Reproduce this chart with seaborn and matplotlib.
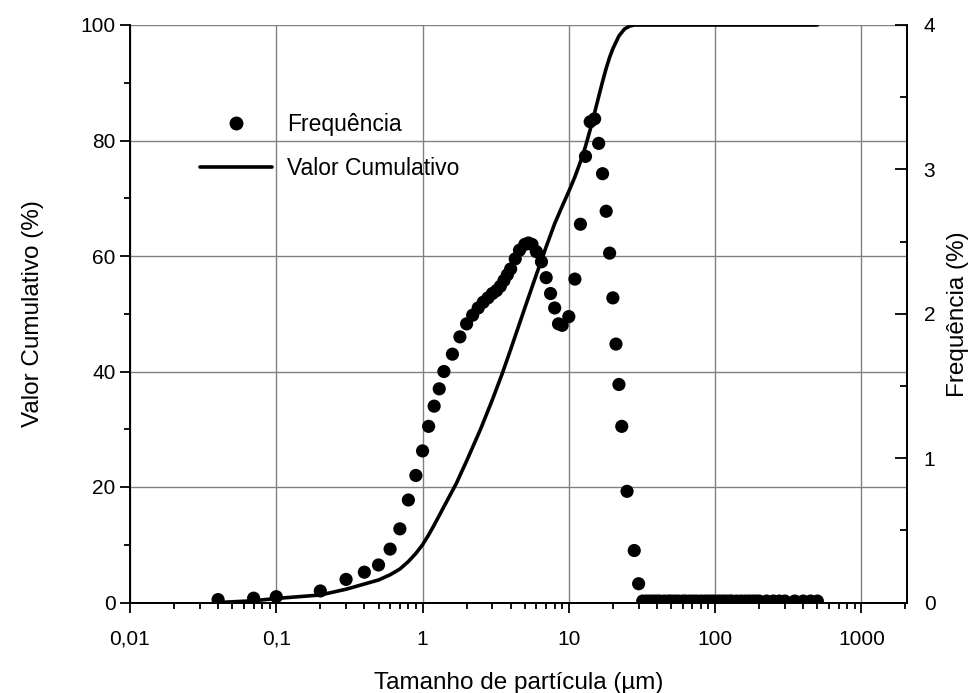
import numpy as np
import pandas as pd
import matplotlib
matplotlib.use("Agg")
import matplotlib.pyplot as plt
import matplotlib.ticker as mticker
from matplotlib.lines import Line2D
import seaborn as sns

# ---- data ----
freq_size = [0.04, 0.07, 0.1, 0.2, 0.3, 0.4, 0.5, 0.6, 0.7, 0.8, 0.9, 1.0, 1.1, 1.2, 1.3, 1.4,
             1.6, 1.8, 2.0, 2.2, 2.4, 2.6, 2.8, 3.0, 3.2, 3.4, 3.6, 3.8, 4.0, 4.3, 4.6, 5.0,
             5.3, 5.6, 6.0, 6.5, 7.0, 7.5, 8.0, 8.5, 9.0, 10, 11, 12, 13, 14, 15, 16, 17, 18,
             19, 20, 21, 22, 23, 25, 28, 30,
             32, 34, 36, 38, 40, 42, 45, 48, 50, 53, 56, 60, 63, 67, 71, 75, 80, 85, 90, 95,
             100, 106, 112, 118, 125, 130, 140, 150, 160, 170, 180, 190, 200, 225, 250, 275,
             300, 350, 400, 450, 500]
freq_val = [0.02, 0.03, 0.04, 0.08, 0.16, 0.21, 0.26, 0.37, 0.51, 0.71, 0.88, 1.05, 1.22, 1.36,
            1.48, 1.60, 1.72, 1.84, 1.93, 1.99, 2.04, 2.08, 2.11, 2.14, 2.16, 2.19, 2.23, 2.27,
            2.31, 2.38, 2.44, 2.48, 2.49, 2.48, 2.43, 2.36, 2.25, 2.14, 2.04, 1.93, 1.92, 1.98,
            2.24, 2.62, 3.09, 3.33, 3.35, 3.18, 2.97, 2.71, 2.42, 2.11, 1.79, 1.51, 1.22, 0.77,
            0.36, 0.13,
            0.01, 0.01, 0.01, 0.01, 0.01, 0.01, 0.01, 0.01, 0.01, 0.01, 0.01, 0.01, 0.01, 0.01,
            0.01, 0.01, 0.01, 0.01, 0.01, 0.01, 0.01, 0.01, 0.01, 0.01, 0.01, 0.01, 0.01, 0.01,
            0.01, 0.01, 0.01, 0.01, 0.01, 0.01, 0.01, 0.01, 0.01, 0.01, 0.01, 0.01, 0.01]

cum_size = [0.04, 0.07, 0.1, 0.2, 0.3, 0.4, 0.5, 0.6, 0.7, 0.8, 0.9, 1.0, 1.1, 1.2, 1.4, 1.7,
            2.0, 2.5, 3.0, 3.5, 4.0, 4.5, 5.0, 6.0, 7.0, 8.0, 9.0, 10, 11, 12, 13, 14, 15, 16,
            17, 18, 19, 20, 22, 24, 26, 28, 32, 50, 100, 200, 500]
cum_val = [0.0, 0.3, 0.7, 1.3, 2.3, 3.2, 3.9, 4.8, 5.8, 7.1, 8.5, 10.0, 11.7, 13.4, 16.6, 20.6,
           24.5, 30.1, 35.1, 39.6, 43.8, 47.6, 51.0, 56.8, 61.6, 65.6, 68.6, 71.2, 73.7, 76.3,
           79.0, 81.9, 84.8, 87.6, 90.2, 92.5, 94.4, 95.9, 98.1, 99.3, 99.8, 100, 100, 100, 100,
           100, 100]

x_ticks = [0.01, 0.1, 1, 10, 100, 1000]
x_ticklabels = ["0,01", "0,1", "1", "10", "100", "1000"]
left_ticks = [0, 20, 40, 60, 80, 100]
right_ticks = [0, 1, 2, 3, 4]

freq_df = pd.DataFrame({"size": freq_size, "freq": freq_val})
cum_df = pd.DataFrame({"size": cum_size, "cum": cum_val})

# ---- style ----
sns.set_style("white")
plt.rcParams["font.family"] = ["Liberation Sans", "DejaVu Sans"]
plt.rcParams["axes.linewidth"] = 1.3
plt.rcParams["text.color"] = "black"
plt.rcParams["axes.labelcolor"] = "black"
plt.rcParams["xtick.color"] = "black"
plt.rcParams["ytick.color"] = "black"

fig = plt.figure(figsize=(9.76, 6.93), dpi=100)
ax = fig.add_axes([130 / 976, 1 - 602.5 / 693, 777 / 976, 577.5 / 693])
ax2 = ax.twinx()

ax.set_xscale("log")
ax.set_xlim(0.01, 2050)
ax.set_ylim(0, 100)
ax2.set_ylim(0, 4)

# grid
ax.set_axisbelow(True)
ax.grid(True, which="major", axis="both", color="#808080", linewidth=1.0)

sns.lineplot(data=cum_df, x="size", y="cum", ax=ax, color="black", linewidth=2.6,
             sort=True, estimator=None, legend=False)
sns.scatterplot(data=freq_df, x="size", y="freq", ax=ax2, color="black", s=90,
                edgecolor="none", legend=False, zorder=3)

# spines
ax.spines["top"].set_visible(False)
ax2.spines["top"].set_visible(False)
for a in (ax, ax2):
    for s in a.spines.values():
        s.set_linewidth(1.3)
        s.set_color("black")

# ticks
ax.set_xticks(x_ticks)
ax.set_xticklabels(x_ticklabels)
ax.xaxis.set_minor_locator(mticker.LogLocator(base=10, subs=np.arange(2, 10), numticks=20))
ax.xaxis.set_minor_formatter(mticker.NullFormatter())
ax.set_yticks(left_ticks)
ax.yaxis.set_minor_locator(mticker.MultipleLocator(10))
ax2.set_yticks(right_ticks)
ax2.yaxis.set_minor_locator(mticker.MultipleLocator(0.5))

ax.tick_params(axis="both", which="major", direction="out", length=7.5, width=1.3,
               labelsize=15, pad=3, colors="black", left=True, bottom=True)
ax.tick_params(axis="both", which="minor", direction="out", length=4.5, width=1.3,
               left=True, bottom=True, colors="black")
ax.tick_params(axis="x", which="major", pad=12)
ax2.tick_params(axis="y", which="major", direction="in", length=9, width=1.3,
                labelsize=15, pad=12, right=True, colors="black")
ax2.tick_params(axis="y", which="minor", direction="in", length=5, width=1.3, right=True,
                colors="black")

ax.set_xlabel("Tamanho de partícula (µm)", fontsize=17.5, labelpad=17, color="black")
ax.set_ylabel("Valor Cumulativo (%)", fontsize=17.5, labelpad=26, color="black")
ax2.set_ylabel("Frequência (%)", fontsize=17.5, labelpad=8, color="black")

# legend
handles = [
    Line2D([], [], linestyle="none", marker="o", markersize=9, color="black"),
    Line2D([], [], color="black", linewidth=2.6),
]
labels = ["Frequência", "Valor Cumulativo"]
leg = ax2.legend(handles, labels, loc="upper left", bbox_to_anchor=(0.09, 0.848),
                 frameon=False, fontsize=16.5, handlelength=3.15, handletextpad=0.65,
                 labelspacing=0.93, borderpad=0, borderaxespad=0, labelcolor="black")

fig.savefig("out.png", dpi=100)
